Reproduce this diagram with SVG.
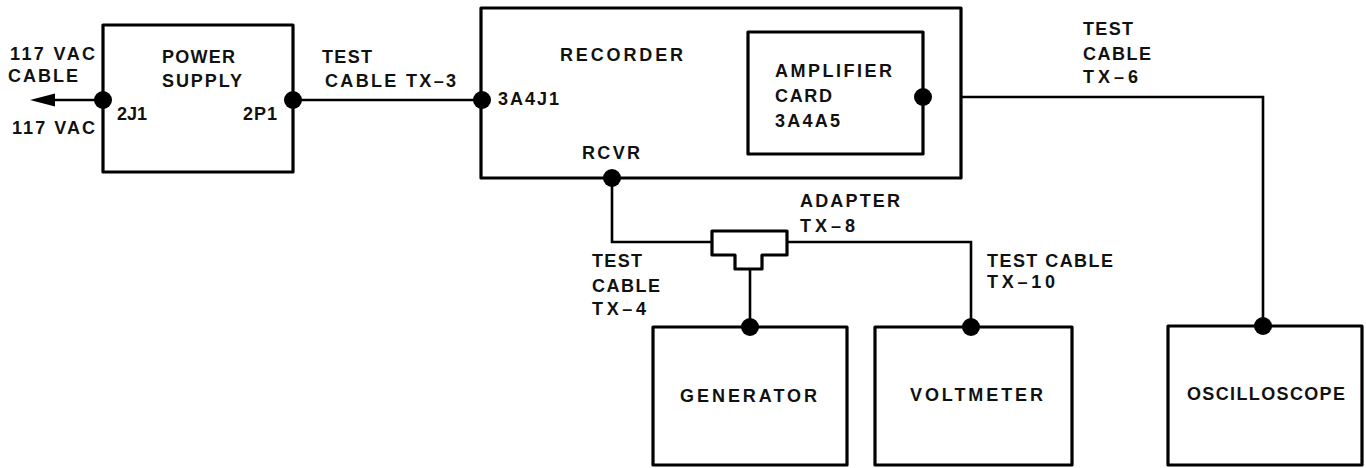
<svg xmlns="http://www.w3.org/2000/svg" width="1366" height="468" viewBox="0 0 1366 468">
<style>
  .box { fill: #ffffff; stroke: #000000; stroke-width: 3.2; stroke-linejoin: round; }
  .wire { fill: none; stroke: #000000; stroke-width: 2.6; }
  .dot { fill: #000000; }
  text { font-family: "Liberation Sans", Arial, sans-serif; font-size: 18px; font-weight: bold; fill: #111111; }
</style>
<rect width="1366" height="468" fill="#ffffff"/>

<g id="connectors">
  <line class="wire" x1="50" y1="100" x2="103" y2="100"/>
  <polygon points="30,100 55,93.5 55,106.5" fill="#000000"/>
  <line class="wire" x1="293" y1="100" x2="481" y2="100"/>
  <polyline class="wire" points="923,97 1263,97 1263,326"/>
  <polyline class="wire" points="612,178 612,242 712,242"/>
  <polyline class="wire" points="787,242 971,242 971,327"/>
  <line class="wire" x1="750" y1="269" x2="750" y2="327"/>
</g>

<g id="power-supply">
  <rect class="box" x="103" y="25" width="190" height="147"/>
  <text x="162" y="63" textLength="73">POWER</text>
  <text x="162" y="87" textLength="80">SUPPLY</text>
  <text x="117" y="120" textLength="30">2J1</text>
  <text x="243" y="120" textLength="34">2P1</text>
  <circle class="dot" cx="103" cy="100" r="9"/>
  <circle class="dot" cx="293" cy="100" r="9"/>
</g>

<g id="recorder">
  <rect class="box" x="481" y="8" width="480" height="170"/>
  <text x="560" y="61" textLength="123">RECORDER</text>
  <text x="498" y="105" textLength="61">3A4J1</text>
  <text x="582" y="159" textLength="58">RCVR</text>
  <circle class="dot" cx="482" cy="100" r="9"/>
  <circle class="dot" cx="612" cy="178" r="9"/>
</g>

<g id="amplifier-card">
  <rect class="box" x="748" y="32" width="175" height="122"/>
  <text x="775" y="77" textLength="117">AMPLIFIER</text>
  <text x="775" y="102" textLength="57">CARD</text>
  <text x="775" y="127" textLength="65">3A4A5</text>
  <circle class="dot" cx="923" cy="97" r="9"/>
</g>

<g id="adapter">
  <path class="box" d="M712,231 H787 V255 H762 V269 H735 V255 H712 Z"/>
  <text x="800" y="207" textLength="100">ADAPTER</text>
  <text x="800" y="232" textLength="55">TX–8</text>
</g>

<g id="generator">
  <rect class="box" x="653" y="327" width="194" height="138"/>
  <text x="680" y="402" textLength="137">GENERATOR</text>
  <circle class="dot" cx="750" cy="327" r="9"/>
</g>

<g id="voltmeter">
  <rect class="box" x="875" y="327" width="197" height="138"/>
  <text x="910" y="401" textLength="133">VOLTMETER</text>
  <circle class="dot" cx="971" cy="327" r="9"/>
</g>

<g id="oscilloscope">
  <rect class="box" x="1168" y="326" width="194" height="139"/>
  <text x="1187" y="400" textLength="158">OSCILLOSCOPE</text>
  <circle class="dot" cx="1263" cy="326" r="9"/>
</g>

<g id="labels">
  <text x="10" y="60" textLength="85">117 VAC</text>
  <text x="8" y="82" textLength="70">CABLE</text>
  <text x="12" y="134" textLength="83">117 VAC</text>
  <text x="322" y="63" textLength="50">TEST</text>
  <text x="325" y="87" textLength="131">CABLE TX–3</text>
  <text x="1083" y="35" textLength="50">TEST</text>
  <text x="1083" y="60" textLength="68">CABLE</text>
  <text x="1083" y="83" textLength="55">TX–6</text>
  <text x="592" y="267" textLength="50">TEST</text>
  <text x="592" y="292" textLength="68">CABLE</text>
  <text x="592" y="315" textLength="54">TX–4</text>
  <text x="987" y="267" textLength="126">TEST CABLE</text>
  <text x="987" y="288" textLength="68">TX–10</text>
</g>
</svg>
